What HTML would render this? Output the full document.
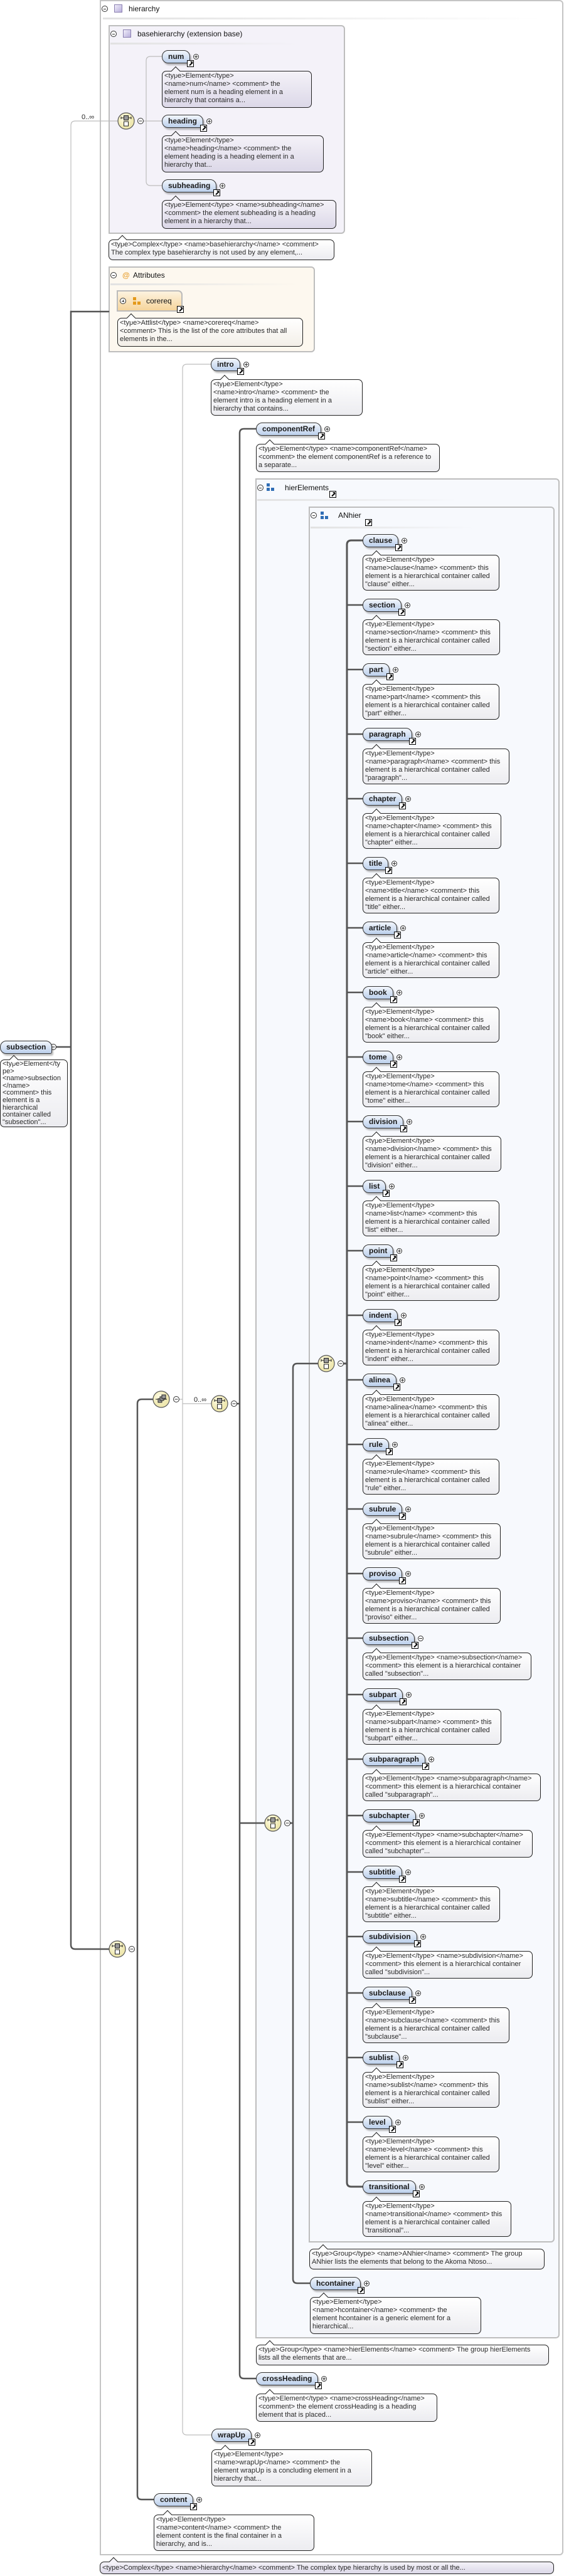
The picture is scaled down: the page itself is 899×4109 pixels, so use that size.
<!DOCTYPE html>
<html><head><meta charset="utf-8">
<style>
*{box-sizing:border-box;margin:0;padding:0}
body{width:899px;height:4109px;position:relative;background:#fff;font-family:"Liberation Sans",sans-serif;overflow:hidden}
.box{position:absolute;border:2px solid #bdbdbd;border-radius:0 6px 6px 0}
.hd{position:absolute;font-size:12px;color:#111;white-space:nowrap}
.sep{position:absolute;height:3px;background:linear-gradient(90deg,#e2e2e2,rgba(230,230,230,0))}
.el{position:absolute;height:21px;line-height:19px;border:1px solid #333;border-radius:10px 10px 3px 10px;background:linear-gradient(#f2f6fc,#bcd0ec);font-size:12px;font-weight:bold;color:#1a1a1a;padding:0 9px;white-space:nowrap;box-shadow:2px 3px 2px rgba(0,0,0,.25);z-index:3}
.el .pl{position:absolute;right:-15px;top:5px;width:9px;height:9px;border:1px solid #333;border-radius:50%;background:#fff}
.el .pl:before{content:"";position:absolute;left:1px;top:3px;width:5px;height:1px;background:#333}
.el .pl:after{content:"";position:absolute;left:3px;top:1px;width:1px;height:5px;background:#333}
.el .mi{position:absolute;right:-15px;top:5px;width:9px;height:9px;border:1px solid #333;border-radius:50%;background:#fff}
.el .mi:before{content:"";position:absolute;left:1px;top:3px;width:5px;height:1px;background:#333}
.ar{position:absolute;right:-7px;bottom:-7px;width:11px;height:11px;border:1px solid #000;background:#fff;z-index:4}
.ar:before{content:"";position:absolute;left:2px;top:4px;width:7px;height:2px;background:#000;transform:rotate(-45deg)}
.ar:after{content:"";position:absolute;right:1px;top:1px;width:0;height:0;border-top:4px solid #000;border-left:4px solid transparent}
.cm{position:absolute;border:1px solid #222;border-radius:7px;background:linear-gradient(#fff,#ececf0);font-size:11px;line-height:13px;color:#2a2a2a;padding:1px 14px 2px 3px;white-space:nowrap;z-index:3}
.cm:before{content:"";position:absolute;left:16px;top:-6px;width:9px;height:9px;background:#fff;border-left:1px solid #222;border-top:1px solid #222;transform:rotate(45deg)}
.pu{background:linear-gradient(#f4f2f8,#dcd8e8)}
.pu:before{background:#f4f2f8}
.ic{position:absolute;width:13px;height:13px;border:1px solid #8a7fb0;background:linear-gradient(135deg,#f1eefa,#b8aedb)}
.mc{position:absolute;width:10px;height:10px;border:1px solid #333;border-radius:50%;background:#fff}
.mc:before{content:"";position:absolute;left:2px;top:4px;width:4px;height:1px;background:#333}
.pc:after{content:"";position:absolute;left:3.5px;top:2px;width:1px;height:4px;background:#333}
.gi{position:absolute;width:13px;height:13px}
.gi i{position:absolute;width:5px;height:5px}
</style></head><body>

<div class="box" style="left:159px;top:0;width:739px;height:4076px;border-color:#c4c4c4"></div>
<div class="mc" style="left:162px;top:9px"></div>
<div class="ic" style="left:182px;top:7px"></div>
<div class="hd" style="left:205px;top:7px">hierarchy</div>
<div class="sep" style="left:164px;top:28px;width:700px"></div>

<div class="box" style="left:173px;top:40px;width:377px;height:333px;background:#f4f2f9"></div>
<div class="mc" style="left:176px;top:49px"></div>
<div class="ic" style="left:196px;top:47px"></div>
<div class="hd" style="left:219px;top:47px">basehierarchy (extension base)</div>
<div class="sep" style="left:176px;top:68px;width:300px"></div>

<div class="cm" style="left:173px;top:382px;width:360px;height:33px">&lt;type&gt;Complex&lt;/type&gt; &lt;name&gt;basehierarchy&lt;/name&gt; &lt;comment&gt;<br>The complex type basehierarchy is not used by any element,...</div>

<div class="box" style="left:173px;top:425px;width:329px;height:137px;background:#fdf8ef"></div>
<div class="mc" style="left:176px;top:434px"></div>
<div class="hd" style="left:195px;top:432px;color:#e8a030;font-weight:bold">@</div>
<div class="hd" style="left:212px;top:432px">Attributes</div>
<div class="sep" style="left:176px;top:452px;width:300px"></div>
<div style="position:absolute;left:186px;top:463px;width:105px;height:34px;border:2px solid #bbb;border-radius:0 7px 0 0;background:linear-gradient(#fdf3df,#f6d59b);z-index:3">
 <div class="mc pc" style="left:3px;top:10px"></div>
 <div class="gi" style="left:24px;top:9px"><i style="left:0;top:0;background:#e49a1c"></i><i style="left:0;top:7px;background:#e49a1c"></i><i style="left:7px;top:7px;background:#e49a1c"></i></div>
 <div class="hd" style="left:45px;top:8px;font-size:12px">corereq</div>
 <div class="ar" style="right:-4px;bottom:-4px"></div>
</div>
<div class="cm" style="left:187px;top:507px;width:296px;height:46px;background:linear-gradient(#fff,#f3efe8)">&lt;type&gt;Attlist&lt;/type&gt; &lt;name&gt;corereq&lt;/name&gt;<br>&lt;comment&gt; This is the list of the core attributes that all<br>elements in the...</div>

<div class="box" style="left:407px;top:763px;width:485px;height:2967px;background:#f7f9fd"></div>
<div class="mc" style="left:410px;top:773px"></div>
<div class="gi" style="left:425px;top:771px"><i style="left:0;top:0;background:#2f6db5"></i><i style="left:0;top:7px;background:#2f6db5"></i><i style="left:7px;top:7px;background:#2f6db5"></i></div>
<div class="hd" style="left:454px;top:771px">hierElements</div>
<div class="ar" style="left:525px;top:783px"></div>
<div class="sep" style="left:410px;top:796px;width:320px"></div>

<div class="box" style="left:492px;top:808px;width:392px;height:2769px;background:#f7f9fd"></div>
<div class="mc" style="left:495px;top:817px"></div>
<div class="gi" style="left:511px;top:816px"><i style="left:0;top:0;background:#2f6db5"></i><i style="left:0;top:7px;background:#2f6db5"></i><i style="left:7px;top:7px;background:#2f6db5"></i></div>
<div class="hd" style="left:539px;top:815px">ANhier</div>
<div class="ar" style="left:582px;top:828px"></div>
<div class="sep" style="left:495px;top:840px;width:260px"></div>

<svg width="899" height="4109" style="position:absolute;left:0;top:0;z-index:2" xmlns="http://www.w3.org/2000/svg">
<g fill="none" stroke-linecap="round">
 <path d="M113,497 V200 Q113,193 120,193 H188" stroke="#bdbdbd" stroke-width="1.2"/>
 <path d="M258,90 H240 Q233,90 233,97 V289 Q233,296 240,296 H258 M228,193 H258" stroke="#bdbdbd" stroke-width="1.2"/>
 <path d="M173,497 H113 V3102 Q113,3109 120,3109 H174 M85,1670 H113" stroke="#555" stroke-width="2.5"/>
 <path d="M245,2232 H226 Q219,2232 219,2239 V3980 Q219,3987 226,3987 H245" stroke="#555" stroke-width="2.5"/>
 <path d="M336,581 H298 Q291,581 291,588 V3877 Q291,3884 298,3884 H337 M286,2232 H291 M291,2239 H337" stroke="#bdbdbd" stroke-width="1.2"/>
 <path d="M408,684 H389 Q382,684 382,691 V3787 Q382,3794 389,3794 H408 M377,2239 H382 M382,2908 H422" stroke="#555" stroke-width="2.5"/>
 <path d="M507,2175 H474 Q467,2175 467,2182 V3635 Q467,3642 474,3642 H494 M462,2908 H467" stroke="#555" stroke-width="2.5"/>
 <path d="M578,862 H560 Q553,862 553,869 V3481 Q553,3488 560,3488 H578 M547,2175 H553" stroke="#555" stroke-width="3"/>
 <path stroke="#555" stroke-width="2.5" d="M553,965H578M553,1068H578M553,1171H578M553,1274H578M553,1377H578M553,1480H578M553,1583H578M553,1686H578M553,1789H578M553,1892H578M553,1995H578M553,2098H578M553,2201H578M553,2304H578M553,2407H578M553,2510H578M553,2613H578M553,2703H578M553,2806H578M553,2896H578M553,2986H578M553,3089H578M553,3179H578M553,3282H578M553,3385H578"/>
</g>
<defs>
 <radialGradient id="yg" cx="40%" cy="35%"><stop offset="0" stop-color="#fffde8"/><stop offset="1" stop-color="#efe8b0"/></radialGradient>
 <g id="seq"><circle r="13" fill="url(#yg)" stroke="#555" stroke-width="1.2"/><line x1="-8" x2="8" y1="-5" y2="-5" stroke="#222"/><line x1="-8" x2="-8" y1="-7" y2="-3" stroke="#222"/><line x1="8" x2="8" y1="-7" y2="-3" stroke="#222"/><rect x="-3.5" y="-8.5" width="7" height="7" fill="#999" stroke="#222"/><rect x="-3.5" y="1" width="7" height="7" fill="#fff" stroke="#222"/></g>
 <g id="cho"><circle r="13" fill="url(#yg)" stroke="#555" stroke-width="1.2"/><line x1="-9" x2="9" y1="0" y2="0" stroke="#222"/><rect x="-5" y="-1" width="6" height="6" fill="#999" stroke="#222"/><rect x="-2" y="-4" width="6" height="6" fill="#999" stroke="#222"/><rect x="1" y="-7" width="6" height="6" fill="#999" stroke="#222"/></g>
 <g id="mn"><circle r="4.5" fill="#fff" stroke="#333"/><line x1="-2.5" x2="2.5" y1="0" y2="0" stroke="#333"/></g>
</defs>
<use href="#seq" x="201" y="193"/><use href="#mn" x="224" y="193"/>
<use href="#seq" x="187" y="3109"/><use href="#mn" x="210" y="3109"/>
<use href="#cho" x="257" y="2232"/><use href="#mn" x="281" y="2232"/>
<use href="#seq" x="350" y="2239"/><use href="#mn" x="373" y="2239"/>
<use href="#seq" x="435" y="2908"/><use href="#mn" x="458" y="2908"/>
<use href="#seq" x="520" y="2175"/><use href="#mn" x="543" y="2175"/>
<use href="#mn" x="85" y="1670"/>
<text x="130" y="190" font-family="Liberation Sans" font-size="11" fill="#222">0..∞</text>
<text x="309" y="2236" font-family="Liberation Sans" font-size="11" fill="#222">0..∞</text>
</svg>

<div class="el" style="left:258px;top:80px">num<i class="pl"></i><b class="ar"></b></div>
<div class="cm pu" style="left:258px;top:113px;width:239px;height:59px">&lt;type&gt;Element&lt;/type&gt;<br>&lt;name&gt;num&lt;/name&gt; &lt;comment&gt; the<br>element num is a heading element in a<br>hierarchy that contains a...</div>
<div class="el" style="left:258px;top:183px">heading<i class="pl"></i><b class="ar"></b></div>
<div class="cm pu" style="left:258px;top:216px;width:258px;height:59px">&lt;type&gt;Element&lt;/type&gt;<br>&lt;name&gt;heading&lt;/name&gt; &lt;comment&gt; the<br>element heading is a heading element in a<br>hierarchy that...</div>
<div class="el" style="left:258px;top:286px">subheading<i class="pl"></i><b class="ar"></b></div>
<div class="cm pu" style="left:258px;top:319px;width:278px;height:46px">&lt;type&gt;Element&lt;/type&gt; &lt;name&gt;subheading&lt;/name&gt;<br>&lt;comment&gt; the element subheading is a heading<br>element in a hierarchy that...</div>

<div class="el" style="left:0;top:1660px;font-size:12px">subsection</div>
<div class="cm" style="left:0;top:1690px;width:108px;height:108px;padding-right:2px;line-height:11.6px">&lt;type&gt;Element&lt;/ty<br>pe&gt;<br>&lt;name&gt;subsection<br>&lt;/name&gt;<br>&lt;comment&gt; this<br>element is a<br>hierarchical<br>container called<br>"subsection"...</div>

<div class="el" style="left:336px;top:571px">intro<i class="pl"></i><b class="ar"></b></div>
<div class="cm" style="left:336px;top:605px;width:242px;height:58px">&lt;type&gt;Element&lt;/type&gt;<br>&lt;name&gt;intro&lt;/name&gt; &lt;comment&gt; the<br>element intro is a heading element in a<br>hierarchy that contains...</div>
<div class="el" style="left:408px;top:674px">componentRef<i class="pl"></i><b class="ar"></b></div>
<div class="cm" style="left:408px;top:708px;width:293px;height:45px">&lt;type&gt;Element&lt;/type&gt; &lt;name&gt;componentRef&lt;/name&gt;<br>&lt;comment&gt; the element componentRef is a reference to<br>a separate...</div>

<div class="el" style="left:578px;top:852px">clause<i class="pl"></i><b class="ar"></b></div>
<div class="cm" style="left:578px;top:885px">&lt;type&gt;Element&lt;/type&gt;<br>&lt;name&gt;clause&lt;/name&gt; &lt;comment&gt; this<br>element is a hierarchical container called<br>"clause" either...</div>
<div class="el" style="left:578px;top:955px">section<i class="pl"></i><b class="ar"></b></div>
<div class="cm" style="left:578px;top:988px">&lt;type&gt;Element&lt;/type&gt;<br>&lt;name&gt;section&lt;/name&gt; &lt;comment&gt; this<br>element is a hierarchical container called<br>"section" either...</div>
<div class="el" style="left:578px;top:1058px">part<i class="pl"></i><b class="ar"></b></div>
<div class="cm" style="left:578px;top:1091px">&lt;type&gt;Element&lt;/type&gt;<br>&lt;name&gt;part&lt;/name&gt; &lt;comment&gt; this<br>element is a hierarchical container called<br>"part" either...</div>
<div class="el" style="left:578px;top:1161px">paragraph<i class="pl"></i><b class="ar"></b></div>
<div class="cm" style="left:578px;top:1194px">&lt;type&gt;Element&lt;/type&gt;<br>&lt;name&gt;paragraph&lt;/name&gt; &lt;comment&gt; this<br>element is a hierarchical container called<br>"paragraph"...</div>
<div class="el" style="left:578px;top:1264px">chapter<i class="pl"></i><b class="ar"></b></div>
<div class="cm" style="left:578px;top:1297px">&lt;type&gt;Element&lt;/type&gt;<br>&lt;name&gt;chapter&lt;/name&gt; &lt;comment&gt; this<br>element is a hierarchical container called<br>"chapter" either...</div>
<div class="el" style="left:578px;top:1367px">title<i class="pl"></i><b class="ar"></b></div>
<div class="cm" style="left:578px;top:1400px">&lt;type&gt;Element&lt;/type&gt;<br>&lt;name&gt;title&lt;/name&gt; &lt;comment&gt; this<br>element is a hierarchical container called<br>"title" either...</div>
<div class="el" style="left:578px;top:1470px">article<i class="pl"></i><b class="ar"></b></div>
<div class="cm" style="left:578px;top:1503px">&lt;type&gt;Element&lt;/type&gt;<br>&lt;name&gt;article&lt;/name&gt; &lt;comment&gt; this<br>element is a hierarchical container called<br>"article" either...</div>
<div class="el" style="left:578px;top:1573px">book<i class="pl"></i><b class="ar"></b></div>
<div class="cm" style="left:578px;top:1606px">&lt;type&gt;Element&lt;/type&gt;<br>&lt;name&gt;book&lt;/name&gt; &lt;comment&gt; this<br>element is a hierarchical container called<br>"book" either...</div>
<div class="el" style="left:578px;top:1676px">tome<i class="pl"></i><b class="ar"></b></div>
<div class="cm" style="left:578px;top:1709px">&lt;type&gt;Element&lt;/type&gt;<br>&lt;name&gt;tome&lt;/name&gt; &lt;comment&gt; this<br>element is a hierarchical container called<br>"tome" either...</div>
<div class="el" style="left:578px;top:1779px">division<i class="pl"></i><b class="ar"></b></div>
<div class="cm" style="left:578px;top:1812px">&lt;type&gt;Element&lt;/type&gt;<br>&lt;name&gt;division&lt;/name&gt; &lt;comment&gt; this<br>element is a hierarchical container called<br>"division" either...</div>
<div class="el" style="left:578px;top:1882px">list<i class="pl"></i><b class="ar"></b></div>
<div class="cm" style="left:578px;top:1915px">&lt;type&gt;Element&lt;/type&gt;<br>&lt;name&gt;list&lt;/name&gt; &lt;comment&gt; this<br>element is a hierarchical container called<br>"list" either...</div>
<div class="el" style="left:578px;top:1985px">point<i class="pl"></i><b class="ar"></b></div>
<div class="cm" style="left:578px;top:2018px">&lt;type&gt;Element&lt;/type&gt;<br>&lt;name&gt;point&lt;/name&gt; &lt;comment&gt; this<br>element is a hierarchical container called<br>"point" either...</div>
<div class="el" style="left:578px;top:2088px">indent<i class="pl"></i><b class="ar"></b></div>
<div class="cm" style="left:578px;top:2121px">&lt;type&gt;Element&lt;/type&gt;<br>&lt;name&gt;indent&lt;/name&gt; &lt;comment&gt; this<br>element is a hierarchical container called<br>"indent" either...</div>
<div class="el" style="left:578px;top:2191px">alinea<i class="pl"></i><b class="ar"></b></div>
<div class="cm" style="left:578px;top:2224px">&lt;type&gt;Element&lt;/type&gt;<br>&lt;name&gt;alinea&lt;/name&gt; &lt;comment&gt; this<br>element is a hierarchical container called<br>"alinea" either...</div>
<div class="el" style="left:578px;top:2294px">rule<i class="pl"></i><b class="ar"></b></div>
<div class="cm" style="left:578px;top:2327px">&lt;type&gt;Element&lt;/type&gt;<br>&lt;name&gt;rule&lt;/name&gt; &lt;comment&gt; this<br>element is a hierarchical container called<br>"rule" either...</div>
<div class="el" style="left:578px;top:2397px">subrule<i class="pl"></i><b class="ar"></b></div>
<div class="cm" style="left:578px;top:2430px">&lt;type&gt;Element&lt;/type&gt;<br>&lt;name&gt;subrule&lt;/name&gt; &lt;comment&gt; this<br>element is a hierarchical container called<br>"subrule" either...</div>
<div class="el" style="left:578px;top:2500px">proviso<i class="pl"></i><b class="ar"></b></div>
<div class="cm" style="left:578px;top:2533px">&lt;type&gt;Element&lt;/type&gt;<br>&lt;name&gt;proviso&lt;/name&gt; &lt;comment&gt; this<br>element is a hierarchical container called<br>"proviso" either...</div>
<div class="el" style="left:578px;top:2603px">subsection<i class="mi"></i><b class="ar"></b></div>
<div class="cm" style="left:578px;top:2636px">&lt;type&gt;Element&lt;/type&gt; &lt;name&gt;subsection&lt;/name&gt;<br>&lt;comment&gt; this element is a hierarchical container<br>called "subsection"...</div>
<div class="el" style="left:578px;top:2693px">subpart<i class="pl"></i><b class="ar"></b></div>
<div class="cm" style="left:578px;top:2726px">&lt;type&gt;Element&lt;/type&gt;<br>&lt;name&gt;subpart&lt;/name&gt; &lt;comment&gt; this<br>element is a hierarchical container called<br>"subpart" either...</div>
<div class="el" style="left:578px;top:2796px">subparagraph<i class="pl"></i><b class="ar"></b></div>
<div class="cm" style="left:578px;top:2829px">&lt;type&gt;Element&lt;/type&gt; &lt;name&gt;subparagraph&lt;/name&gt;<br>&lt;comment&gt; this element is a hierarchical container<br>called "subparagraph"...</div>
<div class="el" style="left:578px;top:2886px">subchapter<i class="pl"></i><b class="ar"></b></div>
<div class="cm" style="left:578px;top:2919px">&lt;type&gt;Element&lt;/type&gt; &lt;name&gt;subchapter&lt;/name&gt;<br>&lt;comment&gt; this element is a hierarchical container<br>called "subchapter"...</div>
<div class="el" style="left:578px;top:2976px">subtitle<i class="pl"></i><b class="ar"></b></div>
<div class="cm" style="left:578px;top:3009px">&lt;type&gt;Element&lt;/type&gt;<br>&lt;name&gt;subtitle&lt;/name&gt; &lt;comment&gt; this<br>element is a hierarchical container called<br>"subtitle" either...</div>
<div class="el" style="left:578px;top:3079px">subdivision<i class="pl"></i><b class="ar"></b></div>
<div class="cm" style="left:578px;top:3112px">&lt;type&gt;Element&lt;/type&gt; &lt;name&gt;subdivision&lt;/name&gt;<br>&lt;comment&gt; this element is a hierarchical container<br>called "subdivision"...</div>
<div class="el" style="left:578px;top:3169px">subclause<i class="pl"></i><b class="ar"></b></div>
<div class="cm" style="left:578px;top:3202px">&lt;type&gt;Element&lt;/type&gt;<br>&lt;name&gt;subclause&lt;/name&gt; &lt;comment&gt; this<br>element is a hierarchical container called<br>"subclause"...</div>
<div class="el" style="left:578px;top:3272px">sublist<i class="pl"></i><b class="ar"></b></div>
<div class="cm" style="left:578px;top:3305px">&lt;type&gt;Element&lt;/type&gt;<br>&lt;name&gt;sublist&lt;/name&gt; &lt;comment&gt; this<br>element is a hierarchical container called<br>"sublist" either...</div>
<div class="el" style="left:578px;top:3375px">level<i class="pl"></i><b class="ar"></b></div>
<div class="cm" style="left:578px;top:3408px">&lt;type&gt;Element&lt;/type&gt;<br>&lt;name&gt;level&lt;/name&gt; &lt;comment&gt; this<br>element is a hierarchical container called<br>"level" either...</div>
<div class="el" style="left:578px;top:3478px">transitional<i class="pl"></i><b class="ar"></b></div>
<div class="cm" style="left:578px;top:3511px">&lt;type&gt;Element&lt;/type&gt;<br>&lt;name&gt;transitional&lt;/name&gt; &lt;comment&gt; this<br>element is a hierarchical container called<br>"transitional"...</div>

<div class="cm" style="left:493px;top:3587px;width:375px;height:33px">&lt;type&gt;Group&lt;/type&gt; &lt;name&gt;ANhier&lt;/name&gt; &lt;comment&gt; The group<br>ANhier lists the elements that belong to the Akoma Ntoso...</div>
<div class="el" style="left:494px;top:3632px">hcontainer<i class="pl"></i><b class="ar"></b></div>
<div class="cm" style="left:494px;top:3664px;width:273px;height:59px">&lt;type&gt;Element&lt;/type&gt;<br>&lt;name&gt;hcontainer&lt;/name&gt; &lt;comment&gt; the<br>element hcontainer is a generic element for a<br>hierarchical...</div>
<div class="cm" style="left:408px;top:3740px;width:467px;height:33px">&lt;type&gt;Group&lt;/type&gt; &lt;name&gt;hierElements&lt;/name&gt; &lt;comment&gt; The group hierElements<br>lists all the elements that are...</div>
<div class="el" style="left:408px;top:3784px">crossHeading<i class="pl"></i><b class="ar"></b></div>
<div class="cm" style="left:408px;top:3818px;width:289px;height:45px">&lt;type&gt;Element&lt;/type&gt; &lt;name&gt;crossHeading&lt;/name&gt;<br>&lt;comment&gt; the element crossHeading is a heading<br>element that is placed...</div>
<div class="el" style="left:337px;top:3874px">wrapUp<i class="pl"></i><b class="ar"></b></div>
<div class="cm" style="left:337px;top:3907px;width:256px;height:59px">&lt;type&gt;Element&lt;/type&gt;<br>&lt;name&gt;wrapUp&lt;/name&gt; &lt;comment&gt; the<br>element wrapUp is a concluding element in a<br>hierarchy that...</div>
<div class="el" style="left:245px;top:3977px">content<i class="pl"></i><b class="ar"></b></div>
<div class="cm" style="left:245px;top:4011px;width:256px;height:58px">&lt;type&gt;Element&lt;/type&gt;<br>&lt;name&gt;content&lt;/name&gt; &lt;comment&gt; the<br>element content is the final container in a<br>hierarchy, and is...</div>

<div class="cm pu" style="left:159px;top:4086px;width:724px;height:20px;line-height:16px">&lt;type&gt;Complex&lt;/type&gt; &lt;name&gt;hierarchy&lt;/name&gt; &lt;comment&gt; The complex type hierarchy is used by most or all the...</div>
</body></html>
